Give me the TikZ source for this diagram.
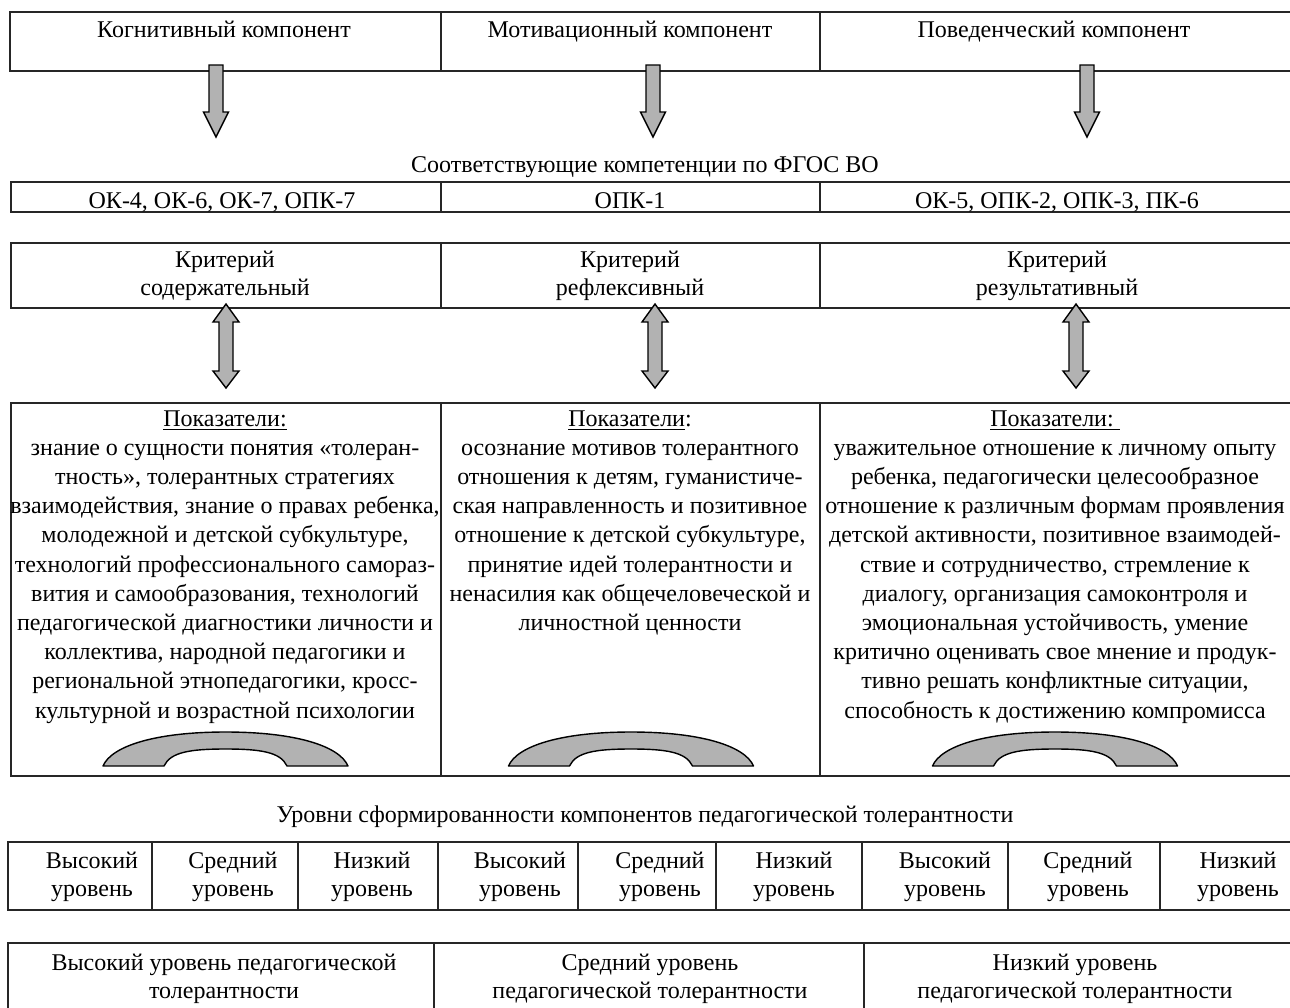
\documentclass[tikz,border=0pt]{standalone}
\usepackage{fontspec}
\setmainfont{Liberation Serif}
\begin{document}
\begin{tikzpicture}[x=0.5pt,y=-0.5pt,
  frame/.style={draw=black!85,line width=0.6pt},
  txt/.style={font=\fontsize{12}{14}\selectfont,align=center,inner sep=0pt,anchor=base},
  ptxt/.style={font=\fontsize{12}{14.6}\selectfont,align=center,inner sep=0pt,anchor=base},
  garrow/.style={fill=black!30,draw=black,line width=0.7pt,line join=miter}]
\useasboundingbox (0,0) rectangle (1290,1007);
\fill[white] (0,0) rectangle (1290,1007);

% ---- top row: components
\draw[frame] (10,12) rectangle (1310,71);
\draw[frame] (441,12) -- (441,71) (820,12) -- (820,71);
\node[txt] (k1) at (224,37) {Когнитивный компонент};
\node[txt] (k2) at (630,37) {Мотивационный компонент};
\node[txt] (k3) at (1054,37) {Поведенческий компонент};

% down arrows
\foreach \c in {216,653,1087}{
  \draw[garrow] (\c-7,65) -- (\c+7,65) -- (\c+7,112) -- (\c+12.5,112) -- (\c,137)
     -- (\c-12.5,112) -- (\c-7,112) -- cycle;
}

% ---- competences
\node[txt] (fgos) at (645,172) {Соответствующие компетенции по ФГОС ВО};
\draw[frame] (11,182) rectangle (1310,212);
\draw[frame] (441,182) -- (441,212) (820,182) -- (820,212);
\node[txt] (c1) at (222,208) {ОК-4, ОК-6, ОК-7, ОПК-7};
\node[txt] (c2) at (630,208) {ОПК-1};
\node[txt] (c3) at (1057,208) {ОК-5, ОПК-2, ОПК-3, ПК-6};

% ---- criteria (anchor = baseline of last line)
\draw[frame] (11,243) rectangle (1310,308);
\draw[frame] (441,243) -- (441,308) (820,243) -- (820,308);
\node[txt] (r1) at (225,295) {Критерий\\содержательный};
\node[txt] (r2) at (630,295) {Критерий\\рефлексивный};
\node[txt] (r3) at (1057,295) {Критерий\\результативный};

% double arrows
\foreach \c in {226,655,1076}{
  \draw[garrow] (\c,304) -- (\c+13,322) -- (\c+7,322) -- (\c+7,371) -- (\c+13,371)
     -- (\c,388) -- (\c-13,371) -- (\c-7,371) -- (\c-7,322) -- (\c-13,322) -- cycle;
}

% ---- indicators
\draw[frame] (11,403) rectangle (1310,776);
\draw[frame] (441,403) -- (441,776) (820,403) -- (820,776);
\node[ptxt] (p1) at (225,718) {\underline{Показатели:}\\
знание о сущности понятия «толеран-\\
тность», толерантных стратегиях\\
взаимодействия, знание о правах ребенка,\\
молодежной и детской субкультуре,\\
технологий профессионального самораз-\\
вития и самообразования, технологий\\
педагогической диагностики личности и\\
коллектива, народной педагогики и\\
региональной этнопедагогики, кросс-\\
культурной и возрастной психологии};
\node[ptxt] (p2) at (630,630.4) {\underline{Показатели}:\\
осознание мотивов толерантного\\
отношения к детям, гуманистиче-\\
ская направленность и позитивное\\
отношение к детской субкультуре,\\
принятие идей толерантности и\\
ненасилия как общечеловеческой и\\
личностной ценности};
\node[ptxt] (p3) at (1055,718) {\underline{Показатели:\ }\\
уважительное отношение к личному опыту\\
ребенка, педагогически целесообразное\\
отношение к различным формам проявления\\
детской активности, позитивное взаимодей-\\
ствие и сотрудничество, стремление к\\
диалогу, организация самоконтроля и\\
эмоциональная устойчивость, умение\\
критично оценивать свое мнение и продук-\\
тивно решать конфликтные ситуации,\\
способность к достижению компромисса};

% arches
\foreach \c in {225.5,631,1055}{
  \draw[garrow,line join=round] (\c-122.5,766) .. controls (\c-114,746) and (\c-70,732) .. (\c,732)
     .. controls (\c+70,732) and (\c+114,746) .. (\c+122.5,766) -- (\c+61.5,766)
     .. controls (\c+55,752) and (\c+35,749) .. (\c,749)
     .. controls (\c-35,749) and (\c-55,752) .. (\c-61.5,766) -- cycle;
}

% ---- levels of components
\node[txt] (lv) at (645,822) {Уровни сформированности компонентов педагогической толерантности};
\draw[frame] (8,842) rectangle (1320,910);
\foreach \x in {152,298,438,578,716,862,1008,1160}{
  \draw[frame] (\x,842) -- (\x,910);
}
\node[txt] (l1) at (92,896) {Высокий\\уровень};
\node[txt] (l2) at (233,896) {Средний\\уровень};
\node[txt] (l3) at (372,896) {Низкий\\уровень};
\node[txt] (l4) at (520,896) {Высокий\\уровень};
\node[txt] (l5) at (660,896) {Средний\\уровень};
\node[txt] (l6) at (794,896) {Низкий\\уровень};
\node[txt] (l7) at (945,896) {Высокий\\уровень};
\node[txt] (l8) at (1088,896) {Средний\\уровень};
\node[txt] (l9) at (1238,896) {Низкий\\уровень};

% ---- overall levels
\draw[frame] (8,943) rectangle (1320,1040);
\draw[frame] (434,943) -- (434,1040) (864,943) -- (864,1040);
\node[txt] (t1) at (224,998) {Высокий уровень педагогической\\толерантности};
\node[txt] (t2) at (650,998) {Средний уровень\\педагогической толерантности};
\node[txt] (t3) at (1075,998) {Низкий уровень\\педагогической толерантности};
\end{tikzpicture}
\end{document}
